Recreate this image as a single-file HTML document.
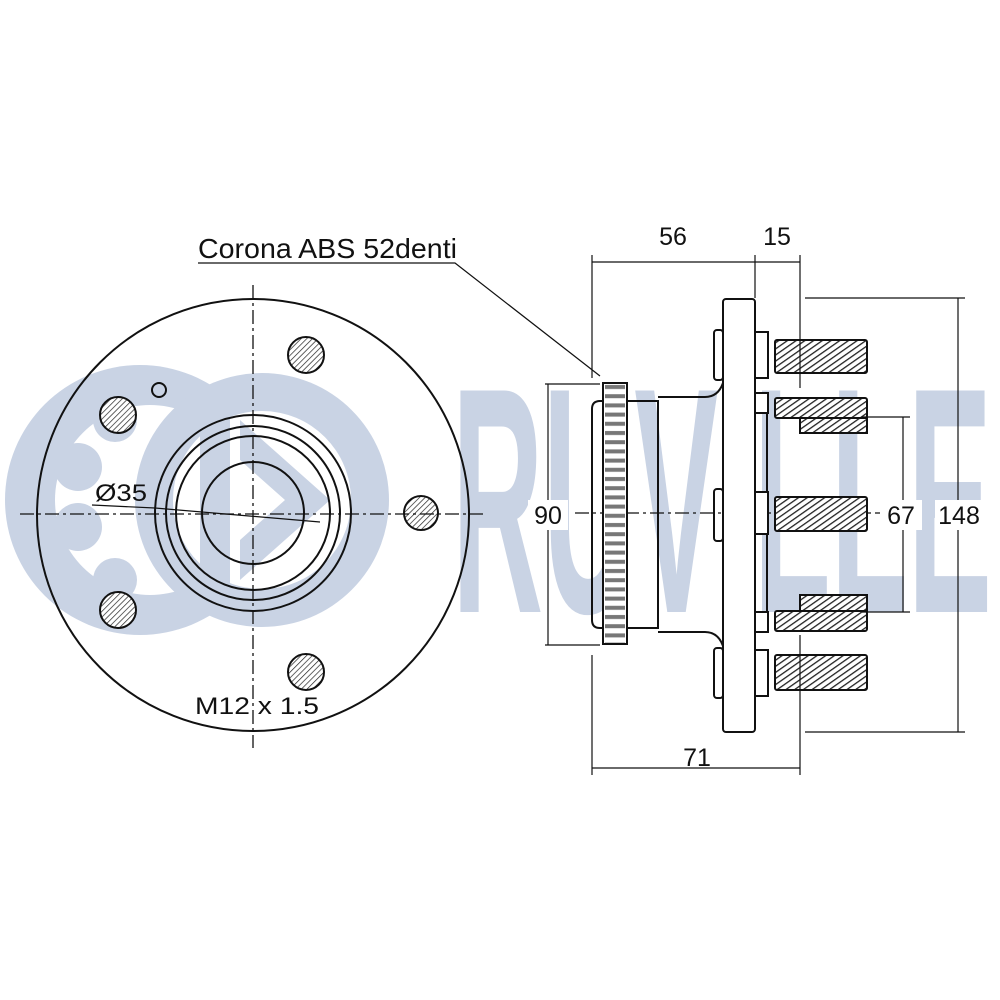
<!DOCTYPE html>
<html><head><meta charset="utf-8"><style>
html,body{margin:0;padding:0;background:#fff;}
svg{display:block;}
text{font-family:"Liberation Sans",sans-serif;fill:#111;}
</style></head><body>
<svg width="1000" height="1000" viewBox="0 0 1000 1000" xmlns="http://www.w3.org/2000/svg">
<defs>
<pattern id="h" width="4" height="4" patternUnits="userSpaceOnUse" patternTransform="rotate(45)">
<rect width="4" height="4" fill="#fff"/><line x1="0" y1="0" x2="0" y2="4" stroke="#222" stroke-width="1.4"/></pattern>
<pattern id="hs" width="5" height="5" patternUnits="userSpaceOnUse" patternTransform="rotate(55)">
<rect width="5" height="5" fill="#fff"/><line x1="0" y1="0" x2="0" y2="5" stroke="#222" stroke-width="2.6"/></pattern>
<pattern id="teeth" width="24" height="9.2" patternUnits="userSpaceOnUse" x="603" y="383">
<rect width="24" height="9.2" fill="#fff"/><rect x="2" y="2" width="20" height="4" fill="#777"/></pattern>
</defs>
<!-- watermark -->
<g fill="#c9d3e4">
<circle cx="140" cy="500" r="135"/>
<circle cx="150" cy="500" r="95" fill="#fff"/>
<circle cx="78" cy="467" r="24"/><circle cx="78" cy="527" r="24"/>
<circle cx="115" cy="420" r="22"/><circle cx="115" cy="580" r="22"/>
<circle cx="262" cy="500" r="127"/>
<circle cx="262" cy="500" r="89" fill="#fff"/>
<rect x="200" y="410" width="30" height="180"/>
<polygon points="240,420 330,500 240,580 240,540 285,500 240,460"/>
<text x="452" y="612" font-size="322" font-weight="bold" textLength="540" lengthAdjust="spacingAndGlyphs" style="fill:#c9d3e4">RUVILLE</text>
</g>
<g stroke="#111" fill="none" stroke-width="2">
<circle cx="253" cy="515" r="216"/>
<circle cx="253" cy="513" r="98"/>
<circle cx="253" cy="513" r="87"/>
<circle cx="253" cy="513" r="77"/>
<circle cx="253" cy="513" r="51"/>
<circle cx="159" cy="390" r="7"/>
<g fill="url(#h)">
<circle cx="306" cy="355" r="18"/><circle cx="118" cy="415" r="18"/>
<circle cx="118" cy="610" r="18"/><circle cx="421" cy="513" r="17"/>
<circle cx="306" cy="672" r="18"/>
</g>
<g stroke-width="1.3" stroke-dasharray="14,4,3,4">
<line x1="253" y1="285" x2="253" y2="748"/>
<line x1="20" y1="514" x2="483" y2="514"/>
<line x1="575" y1="513" x2="880" y2="513"/>
</g>
<polyline points="92,505 155,508 320,522" stroke-width="1.2"/>
<polyline points="198,263 455,263 600,376" stroke-width="1.2"/>
<path d="M658,401 L600,401 Q592,401 592,409 L592,620 Q592,628 600,628 L658,628 Z"/>
<path d="M658,397 L705,397 Q718,397 723,383 M658,632 L705,632 Q718,632 723,646"/>
<rect x="603" y="383" width="24" height="261" fill="url(#teeth)"/>
<rect x="723" y="299" width="32" height="433" rx="3" fill="#fff"/>
<rect x="714" y="330" width="9" height="50" rx="3"/>
<rect x="714" y="489" width="9" height="52" rx="3"/>
<rect x="714" y="648" width="9" height="50" rx="3"/>
<line x1="767" y1="413" x2="767" y2="612"/>
<g fill="#fff">
<rect x="755" y="332" width="13" height="46"/><rect x="755" y="393" width="13" height="20"/>
<rect x="755" y="492" width="13" height="42"/><rect x="755" y="612" width="13" height="20"/>
<rect x="755" y="650" width="13" height="46"/>
</g>
<g fill="url(#hs)">
<rect x="775" y="340" width="92" height="33" rx="2"/>
<rect x="775" y="398" width="92" height="20" rx="2"/>
<rect x="800" y="418" width="67" height="15"/>
<rect x="775" y="497" width="92" height="34" rx="2"/>
<rect x="800" y="595" width="67" height="16"/>
<rect x="775" y="611" width="92" height="20" rx="2"/>
<rect x="775" y="655" width="92" height="35" rx="2"/>
</g>
<g stroke-width="1.2">
<line x1="592" y1="255" x2="592" y2="378"/><line x1="592" y1="655" x2="592" y2="775"/>
<line x1="755" y1="255" x2="755" y2="298"/>
<line x1="800" y1="255" x2="800" y2="388"/><line x1="800" y1="635" x2="800" y2="775"/>
<line x1="592" y1="262" x2="800" y2="262"/>
<line x1="592" y1="768" x2="800" y2="768"/>
<line x1="805" y1="298" x2="965" y2="298"/><line x1="805" y1="732" x2="965" y2="732"/>
<line x1="958" y1="298" x2="958" y2="732"/>
<line x1="862" y1="417" x2="910" y2="417"/><line x1="862" y1="612" x2="910" y2="612"/>
<line x1="903" y1="417" x2="903" y2="612"/>
<line x1="545" y1="384" x2="600" y2="384"/><line x1="545" y1="645" x2="600" y2="645"/>
<line x1="548" y1="384" x2="548" y2="645"/>
</g>
</g>
<g font-size="25">
<text x="198" y="258" font-size="28" textLength="259" lengthAdjust="spacingAndGlyphs">Corona ABS 52denti</text>
<text x="95" y="501" font-size="24" textLength="52" lengthAdjust="spacingAndGlyphs">Ø35</text>
<text x="195" y="714" font-size="24" textLength="124" lengthAdjust="spacingAndGlyphs">M12 x 1.5</text>
<text x="673" y="245" text-anchor="middle">56</text>
<text x="777" y="245" text-anchor="middle">15</text>
<text x="697" y="766" text-anchor="middle">71</text>
<rect x="528" y="500" width="40" height="30" fill="#fff"/>
<text x="548" y="524" text-anchor="middle">90</text>
<rect x="882" y="500" width="40" height="30" fill="#fff"/>
<text x="901" y="524" text-anchor="middle">67</text>
<rect x="935" y="500" width="50" height="30" fill="#fff"/>
<text x="959" y="524" text-anchor="middle">148</text>
</g>
</svg>
</body></html>
